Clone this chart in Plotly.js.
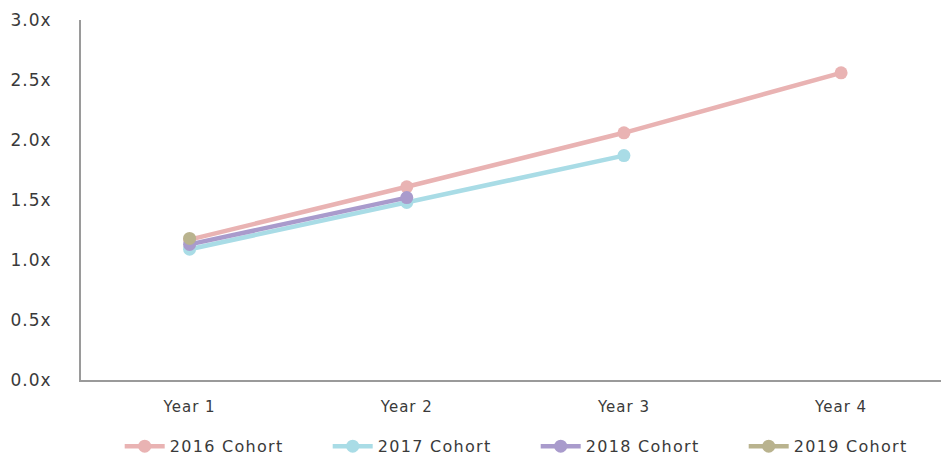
<!DOCTYPE html>
<html>
<head>
<meta charset="utf-8">
<script src="https://cdn.plot.ly/plotly-3.0.1.min.js"></script>
<style>
html,body{margin:0;padding:0;background:#fff;}
#chart{width:941px;height:462px;}
.ytick text, .xtick text{letter-spacing:1px;}
.legendtext{letter-spacing:1.3px;}
</style>
</head>
<body>
<div id="chart"></div>
<script>
const categories = ["Year 1", "Year 2", "Year 3", "Year 4"];
const cohortNames = ["2016 Cohort", "2017 Cohort", "2018 Cohort", "2019 Cohort"];
const cohort2016 = [1.17, 1.61, 2.06, 2.56];
const cohort2017 = [1.09, 1.48, 1.87];
const cohort2018 = [1.13, 1.52];
const cohort2019 = [1.18];
const yTickVals = [0, 0.5, 1, 1.5, 2, 2.5, 3];
const yTickText = ["0.0x", "0.5x", "1.0x", "1.5x", "2.0x", "2.5x", "3.0x"];

const colors = ["#E9B3B3", "#A9DCE6", "#A99BCC", "#B9B38E"];
const series = [cohort2016, cohort2017, cohort2018, cohort2019];

const traces = series.map((vals, i) => ({
  type: "scatter",
  mode: "lines+markers",
  name: cohortNames[i],
  x: categories.slice(0, vals.length),
  y: vals,
  line: {color: colors[i], width: 4.5},
  marker: {color: colors[i], size: 13},
  showlegend: true
}));

const layout = {
  width: 941, height: 462,
  margin: {l: 81, r: 0, t: 20, b: 82, autoexpand: false},
  paper_bgcolor: "#fff", plot_bgcolor: "#fff",
  font: {family: "'DejaVu Sans', sans-serif", color: "#3a3a3a", size: 15},
  xaxis: {
    type: "category",
    range: [-0.5, 3.46],
    showgrid: false, zeroline: false,
    showline: true, linecolor: "#9a9a9a", linewidth: 2,
    ticks: "", ticklabelstandoff: 12,
    tickfont: {size: 15, color: "#3a3a3a"}
  },
  yaxis: {
    range: [0, 3],
    tickvals: yTickVals, ticktext: yTickText,
    showgrid: false, zeroline: false,
    showline: true, linecolor: "#9a9a9a", linewidth: 2,
    ticks: "", ticklabelstandoff: 24,
    tickfont: {size: 17, color: "#3a3a3a"}
  },
  legend: {
    orientation: "h", x: 0.045, xanchor: "left", y: -0.137, yanchor: "top",
    font: {size: 16, color: "#3a3a3a"},
    entrywidth: 153, entrywidthmode: "pixels",
    itemwidth: 40, tracegroupgap: 0
  }
};

Plotly.newPlot("chart", traces, layout, {staticPlot: true, displayModeBar: false});
</script>
</body>
</html>
